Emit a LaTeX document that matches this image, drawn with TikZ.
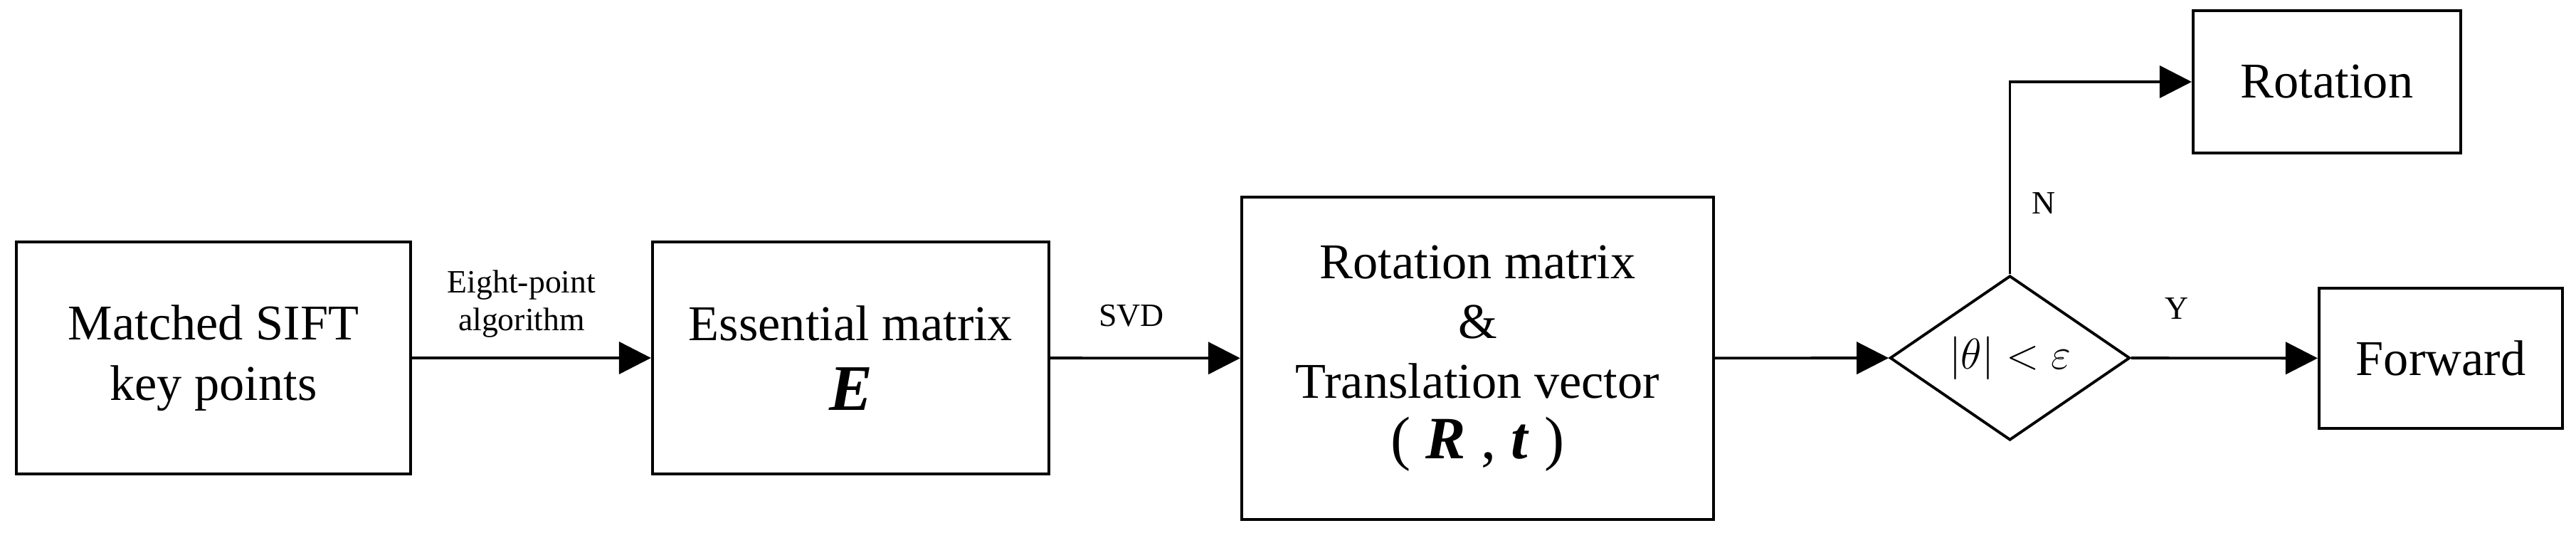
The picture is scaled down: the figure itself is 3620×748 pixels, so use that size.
\documentclass[tikz,border=0pt]{standalone}
\usepackage{fontspec}
\setmainfont{Liberation Serif}
\usetikzlibrary{arrows.meta,shapes.geometric}
\begin{document}
\begin{tikzpicture}[x=0.01cm,y=0.01cm,
  box/.style={draw,line width=1.1pt,inner sep=0pt,font=\fontsize{20}{24}\selectfont,align=center},
  lab/.style={font=\fontsize{13}{15}\selectfont,align=center},
  arr/.style={line width=1.1pt,-{Triangle[length=0.45cm,width=0.45cm]}}]
\useasboundingbox (0,0) rectangle (3620,748);
\node[box,minimum width=5.54cm,minimum height=3.26cm] (a) at (300,245) {Matched SIFT\\key points};
\node[box,minimum width=5.57cm,minimum height=3.26cm] (b) at (1195.5,245) {Essential matrix\\[4pt]{\fontsize{26}{28}\selectfont\textbf{\textit{E}}}};
\node[box,minimum width=6.63cm,minimum height=4.53cm] (c) at (2076.5,244.5) {Rotation matrix\\\&\\Translation vector\\{\fontsize{24}{28}\selectfont ( \textbf{\textit{R}} , \textbf{\textit{t}} )}};
\node[draw,diamond,line width=1.1pt,minimum width=3.37cm,minimum height=2.31cm,inner sep=0pt,aspect=1.46,font=\fontsize{18}{20}\selectfont] (d) at (2824.5,245) {$|\theta|<\varepsilon$};
\node[box,minimum width=3.76cm,minimum height=2.0cm] (r) at (3270,633) {Rotation};
\node[box,minimum width=3.42cm,minimum height=1.97cm] (f) at (3430,244.5) {Forward};
\draw[arr] (a) -- (b);
\draw[arr] (b) -- (c);
\draw[arr] (c) -- (d);
\draw[arr] (d) -- (f);
\draw[arr] (d.north) |- (r.west);
\node[lab] (l1) at (733,321) {Eight-point\\algorithm};
\node[lab] (l2) at (1590,304) {SVD};
\node[lab] (l3) at (2872,462) {N};
\node[lab] (l4) at (3059,314) {Y};
\end{tikzpicture}
\end{document}
